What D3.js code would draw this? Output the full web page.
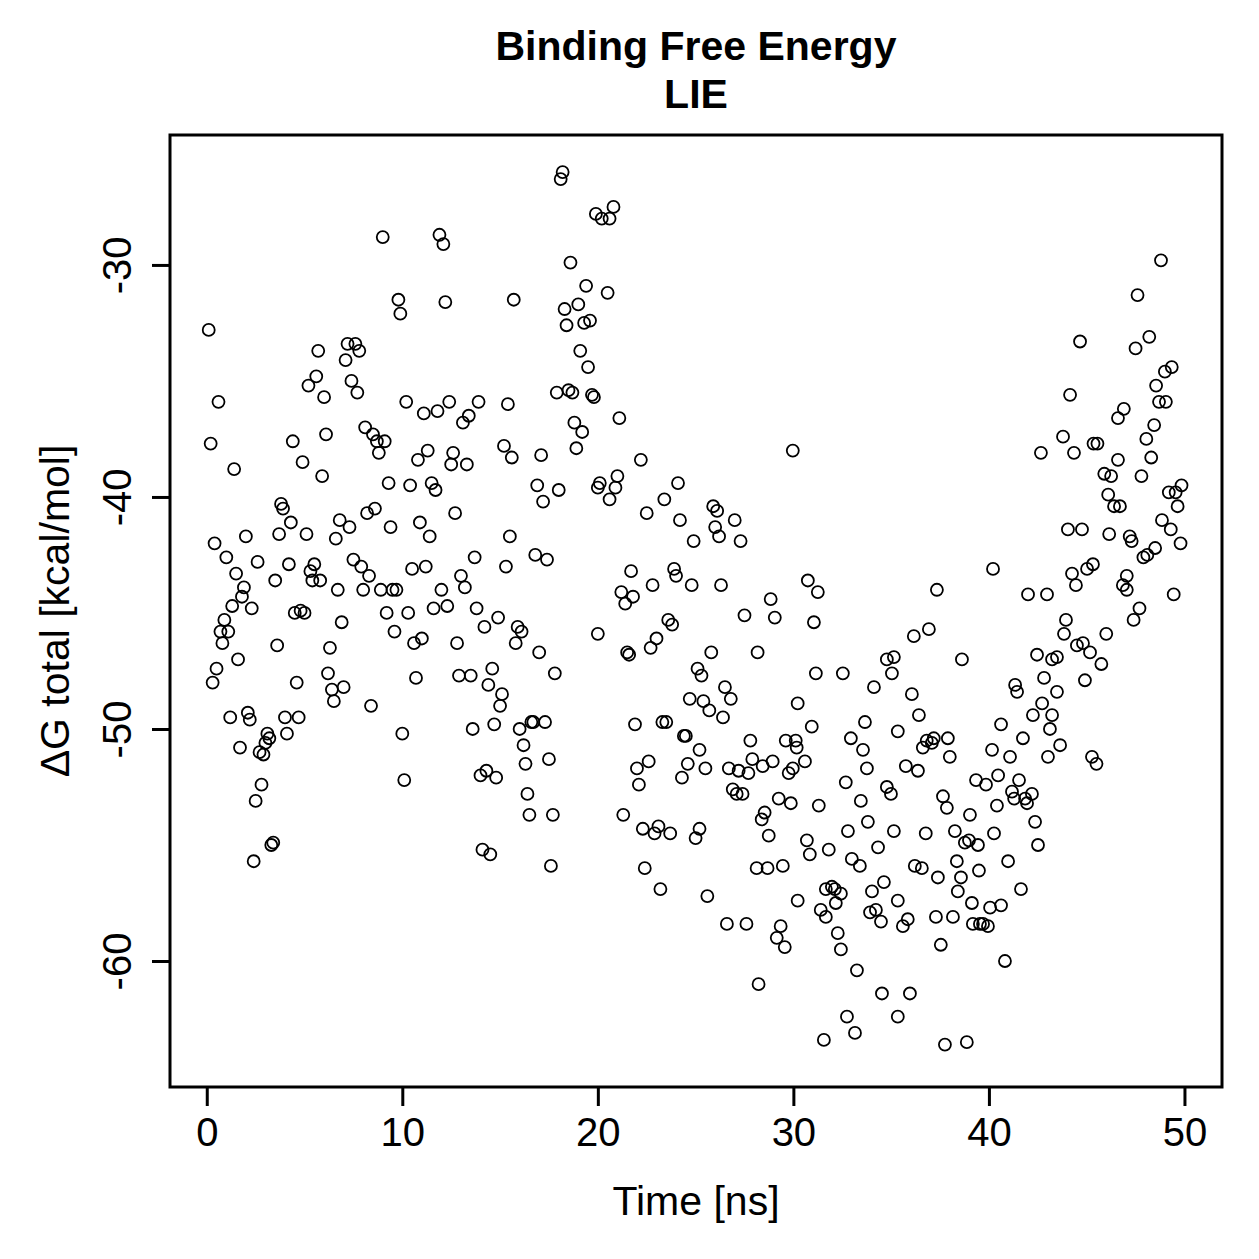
<!DOCTYPE html>
<html>
<head>
<meta charset="utf-8">
<script src="https://cdn.jsdelivr.net/npm/d3@7"></script>
<style>
    body { margin: 0; background: white; }
    text { font-family: "Liberation Sans", Arial, Helvetica, sans-serif; fill: black; }
</style>
</head>
<body>
<script>
// Time [ns] of each LIE snapshot
const timeNs = [
    0.1,0.2,0.3,0.4,0.5,0.6,0.7,0.8,0.9,1.1,1.0,1.2,1.3,1.4,1.5,1.6,1.7,1.8,1.9,2.0,
    2.1,2.2,2.3,2.4,2.5,2.6,2.7,2.8,2.9,3.0,3.1,3.2,3.3,3.4,3.5,3.6,3.7,3.8,3.9,4.0,
    4.1,4.2,4.3,4.4,4.5,4.6,4.7,4.8,4.9,5.0,5.1,5.2,5.3,5.4,5.5,5.6,5.7,5.8,5.9,6.0,
    6.1,6.2,6.3,6.4,6.5,6.6,6.7,6.8,6.9,7.0,7.1,7.2,7.3,7.4,7.5,7.6,7.7,7.8,7.9,8.0,
    8.1,8.2,8.3,8.4,8.5,8.6,8.7,8.8,8.9,9.0,9.1,9.2,9.3,9.4,9.5,9.6,9.7,9.8,9.9,10.0,
    10.1,10.2,10.3,10.4,10.5,10.6,10.7,10.8,10.9,11.0,11.1,11.2,11.3,11.4,11.5,11.6,11.7,11.8,11.9,12.0,
    12.1,12.2,12.3,12.4,12.5,12.6,12.7,12.8,12.9,13.0,13.1,13.2,13.3,13.4,13.5,13.6,13.7,13.8,13.9,14.0,
    14.1,14.2,14.3,14.4,14.5,14.6,14.7,14.8,14.9,15.0,15.1,15.2,15.3,15.4,15.5,15.6,15.7,15.8,15.9,16.0,
    16.1,16.2,16.3,16.4,16.5,16.6,16.7,16.8,16.9,17.0,17.1,17.2,17.3,17.4,17.5,17.6,17.7,17.8,17.9,18.0,
    18.1,18.2,18.3,18.4,18.5,18.6,18.7,18.8,18.9,19.0,19.1,19.2,19.3,19.4,19.5,19.6,19.7,19.8,19.9,20.0,
    20.0,20.1,20.2,20.5,20.6,20.6,20.8,20.9,21.0,21.1,21.2,21.3,21.4,21.5,21.6,21.7,21.8,21.9,22.0,22.1,
    22.2,22.3,22.4,22.5,22.6,22.7,22.8,22.9,23.0,23.1,23.2,23.3,23.4,23.5,23.6,23.7,23.8,23.9,24.0,24.1,
    24.2,24.3,24.4,24.5,24.6,24.7,24.8,24.9,25.0,25.1,25.2,25.2,25.3,25.4,25.5,25.6,25.7,25.8,25.9,26.0,
    26.1,26.2,26.3,26.4,26.5,26.6,26.7,26.8,26.9,27.0,27.1,27.2,27.3,27.4,27.5,27.6,27.7,27.8,27.9,
    28.12,28.17,28.22,28.38,28.43,28.53,28.68,28.74,28.84,28.94,29.05,29.15,29.25,29.35,29.46,29.56,29.61,29.76,29.87,29.97,
    29.97,30.12,30.17,30.22,30.22,30.59,30.69,30.74,30.84,30.94,31.05,31.15,31.25,31.30,31.40,31.56,31.66,31.66,31.81,31.97,
    32.12,32.17,32.27,32.43,32.43,32.53,32.68,32.74,32.79,32.94,32.99,33.15,33.25,33.40,33.45,33.56,33.66,33.76,33.81,33.92,
    34.02,34.12,34.22,34.33,34.48,34.53,34.63,34.78,34.78,34.99,35.04,35.14,35.14,35.34,35.34,35.34,35.60,35.75,35.85,35.96,
    36.06,36.16,36.21,36.37,36.42,36.57,36.62,36.77,36.82,36.93,37.08,37.18,37.29,37.34,37.39,37.54,37.65,37.75,37.85,37.90,
    38.00,38.16,38.26,38.36,38.41,38.57,38.62,38.77,38.87,38.98,39.03,39.13,39.18,39.34,39.44,39.49,39.54,39.70,39.85,39.95,
    40.06,40.16,40.21,40.26,40.41,40.47,40.62,40.62,40.82,40.98,41.08,41.18,41.29,41.34,41.44,41.54,41.64,41.74,41.85,41.95,
    42.00,42.20,42.25,42.36,42.46,42.51,42.66,42.72,42.82,42.97,43.02,43.12,43.23,43.23,43.48,43.48,43.64,43.79,43.84,43.94,
    44.04,44.15,44.25,44.35,44.45,44.50,44.66,44.76,44.81,44.91,45.02,45.17,45.27,45.32,45.35,45.50,45.55,45.75,45.90,46.00,
    46.10,46.15,46.25,46.40,46.60,46.60,46.70,46.85,46.90,47.05,47.05,47.20,47.30,47.40,47.50,47.60,47.70,47.80,47.90,48.05,
    48.10,48.20,48.30,48.45,48.50,48.55,48.70,48.80,48.85,49.00,49.05,49.20,49.30,49.35,49.45,49.55,49.65,49.80,49.85
];

// ΔG total [kcal/mol]
const deltaG = [
    -32.8,-37.7,-48.0,-42.0,-47.4,-35.9,-45.8,-46.3,-45.3,-45.8,-42.6,-49.5,-44.7,-38.8,-43.3,-47.0,-50.8,-44.3,-43.9,-41.7,
    -49.3,-49.6,-44.8,-55.7,-53.1,-42.8,-51.0,-52.4,-51.1,-50.6,-50.2,-50.4,-55.0,-54.9,-43.6,-46.4,-41.6,-40.3,-40.5,-49.5,
    -50.2,-42.9,-41.1,-37.6,-45.0,-48.0,-49.5,-44.9,-38.5,-45.0,-41.6,-35.2,-43.2,-43.6,-42.9,-34.8,-33.7,-43.6,-39.1,-35.7,
    -37.3,-47.6,-46.5,-48.3,-48.8,-41.8,-44.0,-41.0,-45.4,-48.2,-34.1,-33.4,-41.3,-35.0,-42.7,-33.4,-35.5,-33.7,-43.0,-44.0,
    -37.0,-40.7,-43.4,-49.0,-37.3,-40.5,-37.6,-38.1,-44.0,-28.8,-37.6,-45.0,-39.4,-41.3,-44.0,-45.8,-44.0,-31.5,-32.1,-50.2,
    -52.2,-35.9,-45.0,-39.5,-43.1,-46.3,-47.8,-38.4,-41.1,-46.1,-36.4,-43.0,-38.0,-41.7,-39.4,-44.8,-39.7,-36.3,-28.7,-44.0,
    -29.1,-31.6,-44.7,-35.9,-38.6,-38.1,-40.7,-46.3,-47.7,-43.4,-36.8,-43.9,-38.6,-36.5,-47.7,-50.0,-42.6,-44.8,-35.9,-52.0,
    -55.2,-45.6,-51.8,-48.1,-55.4,-47.4,-49.8,-52.1,-45.2,-49.0,-48.5,-37.8,-43.0,-36.0,-41.7,-38.3,-31.5,-46.3,-45.6,-50.0,
    -45.8,-50.7,-51.5,-52.8,-53.7,-49.7,-49.7,-42.5,-39.5,-46.7,-38.2,-40.2,-49.7,-42.7,-51.3,-55.9,-53.7,-47.6,-35.5,-39.7,
    -26.3,-26.0,-31.9,-32.6,-35.4,-29.9,-35.5,-36.8,-37.9,-31.7,-33.7,-37.2,-32.5,-30.9,-34.4,-32.4,-35.6,-35.7,-27.8,-39.6,
    -45.9,-39.4,-28.0,-31.2,-28.0,-40.1,-27.5,-39.6,-39.1,-36.6,-44.1,-53.7,-44.6,-46.7,-46.8,-43.2,-44.3,-49.8,-51.7,-52.4,
    -38.4,-54.3,-56.0,-40.7,-51.4,-46.5,-43.8,-54.5,-46.1,-54.2,-56.9,-49.7,-40.1,-49.7,-45.3,-54.5,-45.5,-43.1,-43.4,-39.4,
    -41.0,-52.1,-50.3,-50.3,-51.5,-48.7,-43.8,-41.9,-54.7,-47.4,-54.3,-50.9,-47.7,-48.8,-51.7,-57.2,-49.2,-46.7,-40.4,-41.3,
    -40.6,-41.7,-43.8,-49.5,-48.2,-58.4,-51.7,-48.7,-52.6,-41.0,-52.8,-51.8,-41.9,-52.8,-45.1,-58.4,-51.9,-50.5,-51.3,
    -56.0,-46.7,-61.0,-53.9,-51.6,-53.6,-56.0,-54.6,-44.4,-51.4,-45.2,-59.0,-53.0,-58.5,-55.9,-59.4,-50.5,-51.9,-53.2,-51.7,
    -38.0,-50.5,-50.8,-48.9,-57.4,-51.4,-54.8,-43.6,-55.4,-49.9,-45.4,-47.6,-44.1,-53.3,-57.8,-63.4,-58.1,-56.9,-55.2,-56.8,
    -56.9,-57.5,-58.8,-57.1,-59.5,-47.6,-52.3,-62.4,-54.4,-50.4,-55.6,-63.1,-60.4,-55.9,-53.1,-50.9,-49.7,-51.7,-54.0,-57.9,
    -57.0,-48.2,-57.8,-55.1,-58.3,-61.4,-56.6,-47.0,-52.5,-52.8,-47.6,-46.9,-54.4,-50.1,-57.4,-62.4,-58.5,-51.6,-58.2,-61.4,
    -48.5,-46.0,-55.9,-51.8,-49.4,-56.0,-50.8,-54.5,-50.5,-45.7,-50.6,-50.4,-58.1,-44.0,-56.4,-59.3,-52.9,-63.6,-53.4,-50.4,
    -51.2,-58.1,-54.4,-55.7,-57.0,-56.4,-47.0,-54.9,-63.5,-54.8,-53.7,-57.5,-58.4,-52.2,-55.0,-56.1,-58.4,-58.4,-52.4,-58.5,
    -57.7,-50.9,-43.1,-54.5,-53.3,-52.0,-49.8,-57.6,-60.0,-55.7,-51.2,-52.7,-53.0,-48.1,-48.4,-52.2,-56.9,-50.4,-53.0,-53.2,
    -44.2,-52.8,-49.4,-54.0,-46.8,-55.0,-38.1,-48.9,-47.8,-44.2,-51.2,-50.0,-49.4,-47.0,-46.9,-48.4,-50.7,-37.4,-45.9,-45.3,
    -41.4,-35.6,-43.3,-38.1,-43.8,-46.4,-33.3,-41.4,-46.3,-47.9,-43.1,-46.7,-51.2,-42.9,-37.7,-51.5,-37.7,-47.2,-39.0,-45.9,
    -39.9,-41.6,-39.1,-40.4,-38.4,-36.6,-40.4,-43.8,-36.2,-44.0,-43.4,-41.7,-41.9,-45.3,-33.6,-31.3,-44.8,-39.1,-42.6,-37.5,
    -42.5,-33.1,-38.3,-36.9,-42.2,-35.2,-35.9,-29.8,-41.0,-34.6,-35.9,-39.8,-41.4,-34.4,-44.2,-39.8,-40.4,-42.0,-39.5,-36.0
];

const xTicks = [0, 10, 20, 30, 40, 50];
const yTicks = [-30, -40, -50, -60];

const data = timeNs.map((t, i) => ({time: t, dg: deltaG[i]}));

const margin = {left: 170, top: 135, right: 37, bottom: 172};
const width = 1052;
const height = 952;

// Scales (R style: range padded by 4%)
const x = d3.scaleLinear()
            .domain([-1.88, 51.92])
            .range([0, width]);

const y = d3.scaleLinear()
            .domain([-65.43, -24.40])
            .range([height, 0]);

const svg = d3.select("body").append("svg")
            .attr('width', width + margin.left + margin.right)
            .attr('height', height + margin.top + margin.bottom);

const g = svg.append("g")
            .attr('transform', `translate(${margin.left}, ${margin.top})`);

// Points
g.selectAll("circle").data(data).enter().append("circle")
    .attr('cx', (d) => {return x(d.time)})
    .attr('cy', (d) => {return y(d.dg)})
    .attr('r', 6)
    .attr('fill', 'none')
    .attr('stroke', 'black')
    .attr('stroke-width', 1.8);

// Axes
const xAxis = g.append("g")
    .attr('transform', `translate(0, ${height})`)
    .call(d3.axisBottom(x).tickValues(xTicks).tickSize(19).tickPadding(12).tickFormat((d) => String(d)));
xAxis.select(".domain").remove();

const yAxis = g.append("g")
    .call(d3.axisLeft(y).tickValues(yTicks).tickSize(18).tickFormat((d) => String(d)));
yAxis.select(".domain").remove();
yAxis.selectAll("text")
    .attr('x', 0)
    .attr('dy', 0)
    .attr('text-anchor', 'middle')
    .attr('transform', 'translate(-39, 0) rotate(-90)');

svg.selectAll(".tick line")
    .attr('stroke', 'black')
    .attr('stroke-width', 3);
svg.selectAll(".tick text")
    .style('font-size', '40px')
    .style('font-family', '"Liberation Sans", Arial, sans-serif')
    .attr('fill', 'black');

// Plot box
g.append("rect")
    .attr('width', width)
    .attr('height', height)
    .attr('fill', 'none')
    .attr('stroke', 'black')
    .attr('stroke-width', 3);

// Labels
svg.append("text")
    .attr('x', margin.left + width / 2)
    .attr('y', 1215)
    .attr('text-anchor', 'middle')
    .style('font-size', '41px')
    .text("Time [ns]");

svg.append("text")
    .attr('transform', `translate(69, ${margin.top + height / 2}) rotate(-90)`)
    .attr('text-anchor', 'middle')
    .style('font-size', '41px')
    .text("ΔG total [kcal/mol]");

svg.append("text")
    .attr('x', margin.left + width / 2)
    .attr('y', 60)
    .attr('text-anchor', 'middle')
    .style('font-size', '41px')
    .style('font-weight', 'bold')
    .text("Binding Free Energy");

svg.append("text")
    .attr('x', margin.left + width / 2)
    .attr('y', 108)
    .attr('text-anchor', 'middle')
    .style('font-size', '41px')
    .style('font-weight', 'bold')
    .text("LIE");
</script>
</body>
</html>
